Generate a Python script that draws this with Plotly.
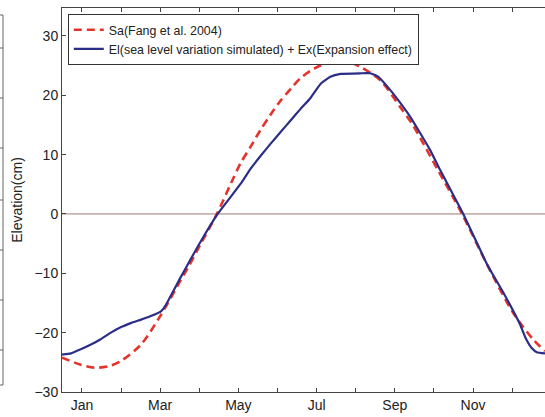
import plotly.graph_objects as go

# Month axis: 1 = Jan tick, 2 = Feb tick, ...
sa_month = [0.49, 0.97, 1.31, 1.66, 1.99, 2.51, 3.02, 3.53, 3.74, 4.04, 4.45,
            4.82, 5.06, 5.31, 5.57, 5.82, 6.08, 6.34, 6.59, 6.84, 7.10, 7.35,
            7.53, 7.86, 8.12, 8.63, 9.14, 9.45, 9.65, 10.11, 10.72, 11.38,
            12.02, 12.53, 12.84]
sa_value = [-24.2, -25.4, -25.9, -25.7, -24.8, -22.0, -17.0, -11.1, -8.7, -5.0, 0.0,
            5.3, 8.6, 11.3, 14.2, 16.7, 19.1, 21.1, 22.9, 24.1, 25.0, 25.5,
            25.8, 25.5, 24.8, 22.5, 18.0, 15.1, 12.8, 7.3, 0.0, -8.8,
            -16.6, -21.1, -23.1]

el_month = [0.49, 0.72, 0.97, 1.23, 1.48, 1.74, 1.99, 2.25, 2.51, 2.76, 3.02,
            3.14, 3.32, 3.53, 3.74, 4.04, 4.47, 5.06, 5.31, 5.57, 5.82, 6.08,
            6.34, 6.59, 6.84, 7.10, 7.35, 7.61, 8.12, 8.37, 8.58, 8.88, 9.14,
            9.39, 9.65, 9.90, 10.16, 10.75, 11.36, 11.77, 12.20, 12.35, 12.50,
            12.63, 12.84]
el_value = [-23.7, -23.5, -22.8, -22.0, -21.1, -20.0, -19.1, -18.4, -17.8, -17.2, -16.4,
            -15.4, -13.2, -10.6, -8.1, -4.6, 0.0, 5.1, 7.6, 9.8, 11.8, 13.8,
            15.8, 17.7, 19.5, 21.9, 23.1, 23.6, 23.7, 23.7, 23.1, 20.9, 18.7,
            16.4, 13.6, 10.8, 7.4, 0.0, -8.5, -13.2, -18.6, -21.0, -22.6,
            -23.3, -23.5]

month_ticks = [1, 2, 3, 4, 5, 6, 7, 8, 9, 10, 11, 12]
month_labels = ["Jan", "", "Mar", "", "May", "", "Jul", "", "Sep", "", "Nov", ""]
y_ticks = [-30, -20, -10, 0, 10, 20, 30]
y_labels = ["\u221230", "\u221220", "\u221210", "0", "10", "20", "30"]

FONT = "Liberation Sans, Arial, Helvetica, sans-serif"

fig = go.Figure()
fig.add_trace(go.Scatter(
    x=sa_month, y=sa_value, mode="lines", name="Sa(Fang et al. 2004)",
    line=dict(color="#e4332b", width=2.6, dash="8px,5px", shape="spline", smoothing=0.8),
))
fig.add_trace(go.Scatter(
    x=el_month, y=el_value, mode="lines",
    name="El(sea level variation simulated) + Ex(Expansion effect)",
    line=dict(color="#2b2e86", width=2.2, shape="spline", smoothing=0.4),
))

# zero reference line
fig.add_hline(y=0, line=dict(color="#9a7b72", width=1), layer="below")

# remnant of neighbouring panel at the far left (frame edge)
PH = 384.0
frame_x = -59 / 483
fig.add_shape(type="line", xref="paper", yref="paper", x0=frame_x, x1=frame_x,
              y0=(392 - 385) / PH, y1=(392 - 15) / PH,
              line=dict(color="#666666", width=1))
fig.add_shape(type="line", xref="paper", yref="paper", x0=-0.2, x1=frame_x,
              y0=(392 - 15) / PH, y1=(392 - 15) / PH,
              line=dict(color="#666666", width=1))
fig.add_shape(type="line", xref="paper", yref="paper", x0=-0.2, x1=frame_x,
              y0=(392 - 385) / PH, y1=(392 - 385) / PH,
              line=dict(color="#666666", width=1))
for ty in [48, 98, 148, 200, 250, 300, 350]:
    fig.add_shape(type="line", xref="paper", yref="paper", x0=frame_x - 4 / 483,
                  x1=frame_x, y0=(392 - ty) / PH, y1=(392 - ty) / PH,
                  line=dict(color="#666666", width=1))

fig.update_layout(
    width=545, height=417,
    margin=dict(l=62, r=0, t=8, b=25, autoexpand=False),
    paper_bgcolor="white", plot_bgcolor="white",
    font=dict(family=FONT, size=14, color="#222222"),
    showlegend=True,
    legend=dict(
        x=0.012, y=0.984, xanchor="left", yanchor="top",
        bgcolor="white", bordercolor="#333333", borderwidth=1,
        font=dict(family=FONT, size=12.4, color="#222222"),
        tracegroupgap=0, itemwidth=30,
    ),
    xaxis=dict(
        range=[0.49, 12.84], tickvals=month_ticks, ticktext=month_labels,
        ticks="inside", ticklen=4, tickcolor="#444444",
        showline=True, linecolor="#444444", linewidth=1, mirror="ticks",
        showgrid=False, zeroline=False,
        tickfont=dict(size=14),
    ),
    yaxis=dict(
        range=[-30, 34.7], tickvals=y_ticks, ticktext=y_labels,
        ticks="inside", ticklen=4, tickcolor="#444444",
        showline=True, linecolor="#444444", linewidth=1,
        showgrid=False, zeroline=False,
        title=dict(text="Elevation(cm)", font=dict(size=14), standoff=8),
        tickfont=dict(size=14),
    ),
)

fig.write_html("out.html", config={"displayModeBar": False},
               post_script="document.body.style.margin='0';")
